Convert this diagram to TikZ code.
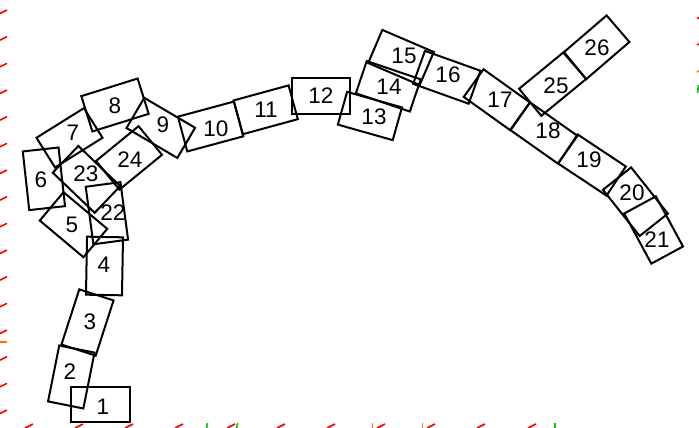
\documentclass[tikz,border=0pt]{standalone}
\usepackage{fontspec}
\setmainfont{Liberation Sans}
\begin{document}
\begin{tikzpicture}[x=1pt,y=-1pt,
  box/.style={draw=black, line width=2pt, rectangle, inner sep=0pt, outer sep=0pt},
  lbl/.style={font=\fontsize{22.5}{22.5}\selectfont, inner sep=0pt, text=black},
  rtick/.style={draw=red, line width=1.6pt},
  otick/.style={draw=orange!90!red, line width=1.6pt},
  gtick/.style={draw=green!80!black, line width=1.6pt}]
\useasboundingbox (0,0) rectangle (699,428);
% boxes: name / x / y / w / h / rotation / label x / label y
\foreach \n/\x/\y/\w/\h/\r/\lx/\ly in {
  1/100.5/404.5/59/35/0/103/407,
  2/71.3/377/36/57/-11.3/70/372,
  3/87.5/322.5/36/58/-17.9/90/322,
  4/104.5/266/36/58/-1/104/265,
  5/73.5/224.7/57/37/-40/72/225,
  6/43.9/178.8/36/59/6.3/41/180,
  7/69.5/137.8/56/35/32/73/133,
  8/115/105/59/37/17.4/115/106,
  9/160.8/127.9/59/35/-30.5/163/125,
  10/210.6/126.5/58/36/15.1/216/129,
  11/265.7/109.8/57/35/15.3/266/110,
  12/321.3/96/58/36/0/321/96,
  13/369.9/116/57/34/-15.8/374/117,
  14/388.3/86.3/57/34/-18.7/389/87,
  15/401/57.5/56/36/-23.2/404/56,
  16/446.8/77.3/59/35/-19.7/448/75,
  17/496.8/99.7/57/34/-35.6/500/100,
  18/544/133/58/34/-35.2/548/131,
  19/592/165/58/35/-33.6/589/160,
  20/635.4/201.7/59/36/-51.5/632/193,
  21/653.6/230/57/36/-61.6/657/240,
  22/106.9/213.2/35/58/7.6/113/213,
  23/86.5/179.4/58/37/-43.8/86/174,
  24/129/157.9/55/37/39.3/130/160,
  25/552.6/83.9/58/35/39.4/556/86,
  26/596.4/47.3/57/35/40.7/597/48}{
  \node[box, minimum width=\w pt, minimum height=\h pt, rotate=\r] (b\n) at (\x,\y) {};
  \node[lbl] (l\n) at (\lx,\ly) {\n};
}
% edge tick marks (left side)
\foreach \t in {10,36.7,63.3,90,116.7,143.3,170,196.7,223.3,250,276.7,303.3,330,356.7,383.3,410}{
  \draw[rtick] (0,\t+3.5) -- (7,\t);
}
\draw[otick] (0,341.7) -- (7,341.7);
% bottom ticks
\foreach \t in {25,75,125,175,227,277,327,377,427,477,528}{
  \draw[rtick] (\t,428) -- (\t+8,424);
}
\draw[gtick] (206.7,428) -- (207.5,423);
\draw[gtick] (236.7,428) -- (237.5,423);
\draw[otick] (372.3,428) -- (372.3,423);
\draw[otick] (422.3,428) -- (422.3,423);
\draw[gtick] (555,428) -- (555,423);
% right edge marks
\draw[rtick] (697,18.5) -- (699,17.5);
\draw[rtick] (697,45) -- (699,44);
\draw[otick] (697,72) -- (699,71);
\draw[gtick] (697.5,93) -- (698.5,85);
\end{tikzpicture}
\end{document}
